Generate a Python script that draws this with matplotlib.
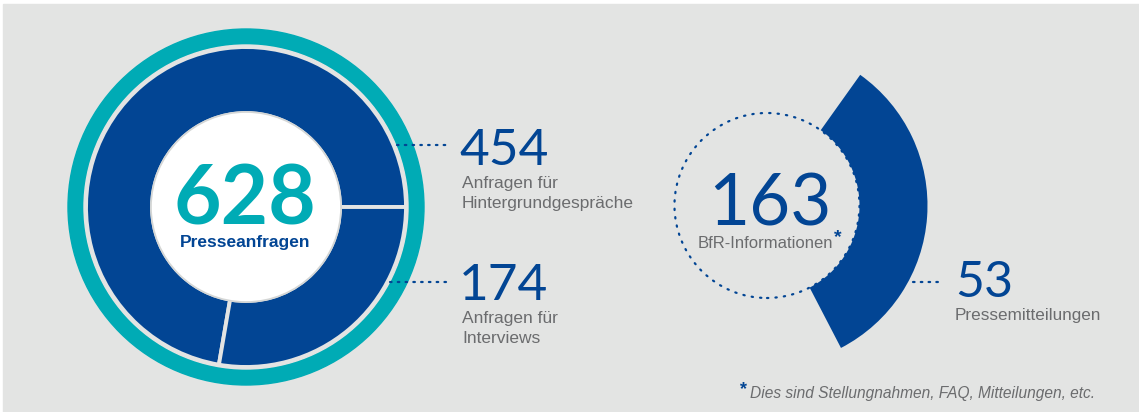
import matplotlib.pyplot as plt
import matplotlib.patches as mpatches

# Data
press_total = 628
press_values = [454, 174]
press_labels = ["Anfragen für\nHintergrundgespräche", "Anfragen für\nInterviews"]
info_total = 163
info_part = 53
info_part_label = "Pressemitteilungen"
footnote = "Dies sind Stellungnahmen, FAQ, Mitteilungen, etc."

# Colours
bg = "#e3e4e3"
blue = "#024594"
teal = "#00abb5"
grey = "#6b6c6e"

W, H = 1139, 412
fig = plt.figure(figsize=(W / 100, H / 100), dpi=100, facecolor="white")
ax = fig.add_axes([0, 0, 1, 1])
ax.set_xlim(0, W)
ax.set_ylim(0, H)
ax.set_aspect("equal")
ax.axis("off")

ax.add_patch(mpatches.Rectangle((3, 0), W - 3, H - 4, color=bg, zorder=0))

num_font = "Lato"
txt_font = "Liberation Sans"

# Left donut
cx, cy = 246, 205
ax.add_patch(mpatches.Circle((cx, cy), 178, color=teal, zorder=1))
ax.add_patch(mpatches.Circle((cx, cy), 162, color=bg, zorder=2))
start = 0.0
for v in press_values:
    span = 360.0 * v / press_total
    ax.add_patch(mpatches.Wedge((cx, cy), 160, start, start + span, width=66,
                                facecolor=blue, edgecolor=bg, linewidth=2.8, zorder=3))
    start += span
ax.add_patch(mpatches.Circle((cx, cy), 95, facecolor="white", edgecolor="#d4d6d5",
                             linewidth=1.2, zorder=4))
ax.text(cx - 1, H - 224, str(press_total), color=teal, fontsize=59, fontweight="bold",
        family=num_font, ha="center", va="baseline", zorder=5)
ax.text(cx - 1, H - 247, "Presseanfragen", color=blue, fontsize=12.5, fontweight="bold",
        family=txt_font, ha="center", va="baseline", zorder=5)

# Leader lines and labels for the donut
dot_style = dict(color=blue, linewidth=1.6, linestyle=(0, (0.7, 2.8)),
                 dash_capstyle="round", zorder=6)
leader_y = [145, 282]
leader_x0 = [397, 390]
num_base = [165, 300]
for v, lab, ly, lx, nb in zip(press_values, press_labels, leader_y, leader_x0, num_base):
    ax.plot([lx, 447], [H - ly, H - ly], **dot_style)
    ax.text(459, H - nb, str(v), color=blue, fontsize=37, family=num_font,
            ha="left", va="baseline")
    l1, l2 = lab.split("\n")
    ax.text(462, H - nb - 23, l1, color=grey, fontsize=12.5, family=txt_font,
            ha="left", va="baseline")
    ax.text(462, H - nb - 43, l2, color=grey, fontsize=12.5, family=txt_font,
            ha="left", va="baseline")

# Right chart
rx, ry = 767, 206.5
ax.add_patch(mpatches.Circle((rx, ry), 92.5, fill=False, edgecolor=blue, linewidth=1.6,
                             linestyle=(0, (0.6, 3.2)), capstyle="round", zorder=2))
top_angle = 54.5
span = 360.0 * info_part / info_total
ax.add_patch(mpatches.Wedge((rx, ry), 160.5, top_angle - span, top_angle, width=68,
                            facecolor=blue, edgecolor="none", zorder=3))
ax.text(770, H - 225, str(info_total), color=blue, fontsize=51, family=num_font,
        ha="center", va="baseline")
ax.text(765, H - 248, "BfR-Informationen", color=grey, fontsize=12, family=txt_font,
        ha="center", va="baseline")
ax.text(834, H - 242, "*", color=blue, fontsize=14, fontweight="bold", family=txt_font,
        ha="left", va="baseline")

ax.plot([913, 943], [H - 282, H - 282], **dot_style)
ax.text(955, H - 297, str(info_part), color=blue, fontsize=36, family=num_font,
        ha="left", va="baseline")
ax.text(955, H - 320, info_part_label, color=grey, fontsize=12.3, family=txt_font,
        ha="left", va="baseline")

# Footnote
ax.text(740, H - 394, "*", color=blue, fontsize=13, fontweight="bold", family=txt_font,
        ha="left", va="baseline")
ax.text(750, H - 398, footnote, color=grey, fontsize=11.2, style="italic",
        family=txt_font, ha="left", va="baseline")

fig.savefig("out.png", dpi=100, facecolor=fig.get_facecolor())
